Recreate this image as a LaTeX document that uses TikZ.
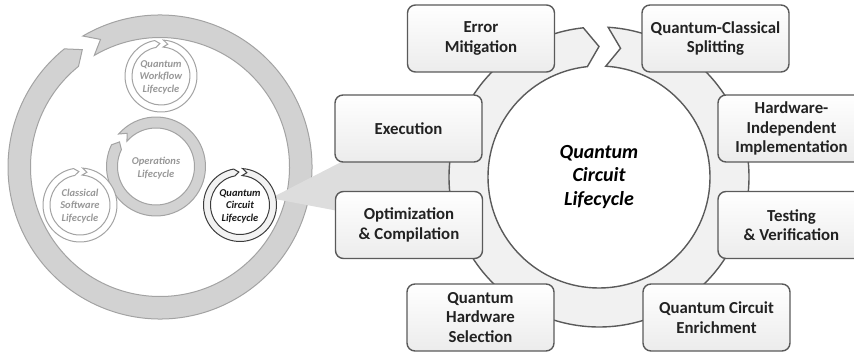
\documentclass[tikz,border=0pt]{standalone}
\usepackage{fontspec}
\setmainfont{Carlito}
\definecolor{boxline}{HTML}{5A5A5A}
\definecolor{boxtxt}{HTML}{222222}
\definecolor{ringR}{HTML}{F1F1F1}
\definecolor{ringL}{HTML}{D2D2D2}
\definecolor{ringLline}{HTML}{A3A3A3}
\definecolor{wedgecol}{HTML}{DDDDDD}
\definecolor{lgtxt}{HTML}{979797}
\definecolor{qcline}{HTML}{3C3C3C}
\definecolor{qcfill}{HTML}{F2F2F2}
\newcommand{\cycseg}[8]{%
  \path[#1, shift={#2}] (#6:#3pt) arc[start angle=#6, end angle={#7+#8}, radius=#3pt]
    -- ({#7}:#5pt) -- ({#7+#8}:#4pt)
    arc[start angle={#7+#8}, end angle=#6, radius=#4pt]
    -- ({#6-#8}:#5pt) -- cycle;}
\tikzset{
  stepbox/.style={draw=boxline, line width=1.4pt, rounded corners=8pt,
    minimum width=147pt, minimum height=67pt, top color=white, bottom color=gray!15,
    text=boxtxt, align=center, inner sep=0pt,
    font=\bfseries\fontsize{16.8}{19.5}\selectfont},
  bigring/.style={fill=ringR, draw=boxline, line width=1.4pt},
  grayring/.style={fill=ringL, draw=ringLline, line width=1pt},
  whitering/.style={fill=white, draw=ringLline, line width=1pt},
  qcring/.style={fill=qcfill, draw=qcline, line width=1pt},
  smalltxt/.style={align=center, text=lgtxt, inner sep=0pt,
    font=\bfseries\itshape\fontsize{10.5}{12.5}\selectfont},
  centertxt/.style={align=center, text=black, inner sep=0pt,
    font=\bfseries\itshape\fontsize{20}{23.5}\selectfont},
}
\begin{document}
\begin{tikzpicture}[x=1pt,y=1pt]
\useasboundingbox (0,0) rectangle (854,354);
\clip (0,0) rectangle (854,354);
% left big ring
\cycseg{grayring}{(160,187)}{152}{129.5}{140.75}{120.5}{-236.5}{5.5}
% wedge (callout)
\coordinate (wa) at (275,158);
\coordinate (wb) at (460,253);
\coordinate (wc) at (460,120);
\coordinate (wd) at (275,155);
\fill[wedgecol] (wa) -- (wb) -- (wc) -- (wd) -- cycle;
% inner rings of left diagram
\cycseg{grayring}{(156,187.5)}{49.5}{38.5}{44}{139}{-214}{8}
\cycseg{whitering}{(161,278)}{36}{29}{32.5}{86}{-268}{8}
\cycseg{whitering}{(80,149)}{37}{30}{33.5}{86}{-268}{8}
\cycseg{qcring}{(240,149)}{36.5}{29.5}{33}{86}{-268}{8}
\node[smalltxt] (ops) at (156,186) {Operations\\Lifecycle};
\node[smalltxt] (qwl) at (161,277) {Quantum\\Workflow\\Lifecycle};
\node[smalltxt] (csl) at (80,148) {Classical\\Software\\Lifecycle};
\node[smalltxt, text=black!90] (qcl) at (240,148) {Quantum\\Circuit\\Lifecycle};
% right ring
\cycseg{bigring}{(599,177)}{150}{111}{130.5}{86.5}{-270}{6}
\node[centertxt] (center) at (599,177) {Quantum\\Circuit\\Lifecycle};
% boxes
\node[stepbox] (em) at (481,315.5) {Error\\Mitigation};
\node[stepbox] (qcs) at (715.5,315.5) {Quantum-Classical\\Splitting};
\node[stepbox] (ex) at (408.5,225.5) {Execution};
\node[stepbox] (hw) at (791.5,225.5) {Hardware-\\Independent\\Implementation};
\node[stepbox] (oc) at (409,129) {Optimization\\\& Compilation};
\node[stepbox] (tv) at (791.5,129) {Testing\\\& Verification};
\node[stepbox] (hs) at (480.5,36.5) {Quantum\\Hardware\\Selection};
\node[stepbox] (ce) at (716.5,36.5) {Quantum Circuit\\Enrichment};
\end{tikzpicture}
\end{document}
